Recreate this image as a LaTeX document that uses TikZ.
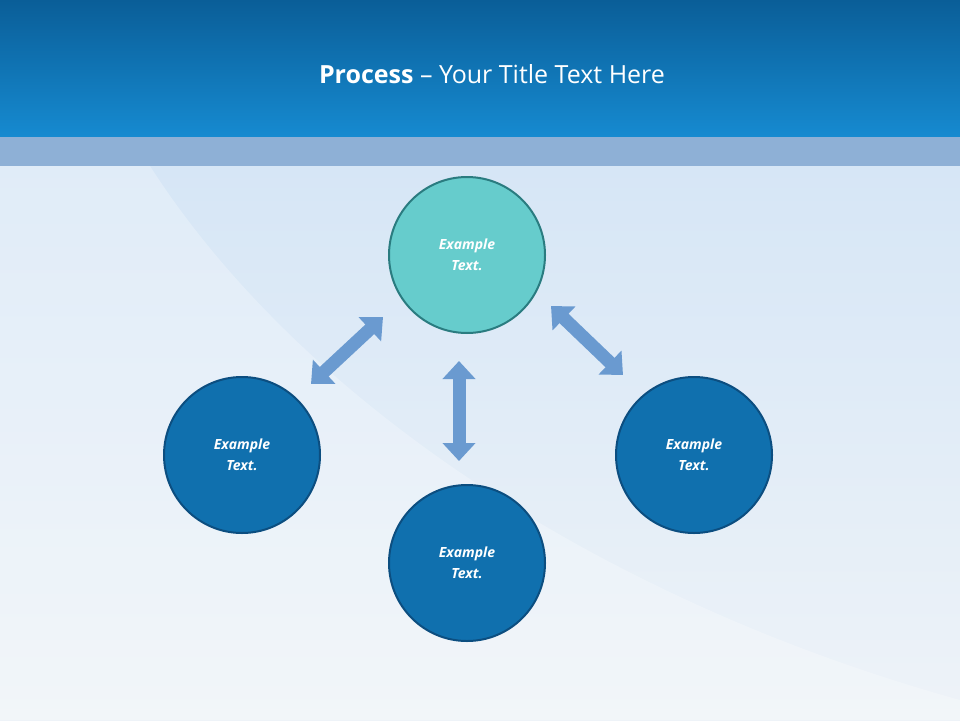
\documentclass[tikz,border=0pt]{standalone}
\usepackage{fontspec}
\setmainfont{Open Sans}
\usetikzlibrary{arrows.meta}
\definecolor{bar1}{HTML}{0A5E98}
\definecolor{bar2}{HTML}{168AD0}
\definecolor{band}{HTML}{8EB0D6}
\definecolor{bgA}{HTML}{D6E6F6}
\definecolor{bgB}{HTML}{EEF3F8}
\definecolor{teal}{HTML}{66CCCC}
\definecolor{tealB}{HTML}{2A7C80}
\definecolor{blue}{HTML}{1070AE}
\definecolor{blueB}{HTML}{0C4E80}
\definecolor{arr}{HTML}{6A9AD0}
\tikzset{
 circ/.style={circle,minimum size=156pt,line width=2pt,draw=blueB,fill=blue,text=white,font=\bfseries\itshape\fontsize{14pt}{21pt}\selectfont,align=center},
 tcirc/.style={circ,draw=tealB,fill=teal},
 darr/.style={draw=arr,line width=13pt,{Triangle[width=32pt,length=18pt]}-{Triangle[width=32pt,length=18pt]}}
}
\begin{document}
\begin{tikzpicture}[x=1pt,y=-1pt]
\useasboundingbox (0,0) rectangle (960,720);
\shade[top color=bgA,bottom color=bgB] (0,166) rectangle (960,720);
\fill[white,opacity=0.25] (150,166) .. controls (300,400) and (600,600) .. (960,700) -- (960,720) -- (0,720) -- (0,166) -- cycle;
\fill[band] (0,136) rectangle (960,166);
\shade[top color=bar1,bottom color=bar2] (0,0) rectangle (960,136);
\node[text=white,font=\fontsize{25pt}{30pt}\selectfont] (title) at (492,74) {\textbf{Process} – Your Title Text Here};
\node[tcirc] (top) at (467,255) {Example\\Text.};
\node[circ] (left) at (242,455) {Example\\Text.};
\node[circ] (bot) at (467,563) {Example\\Text.};
\node[circ] (right) at (694,455) {Example\\Text.};
\coordinate (a1) at (311,384); \coordinate (a2) at (383,317);
\coordinate (b1) at (551,306); \coordinate (b2) at (623,375);
\coordinate (c1) at (459,361); \coordinate (c2) at (459,461);
\draw[darr] (a1) -- (a2);
\draw[darr] (b1) -- (b2);
\draw[darr] (c1) -- (c2);
\end{tikzpicture}
\end{document}
